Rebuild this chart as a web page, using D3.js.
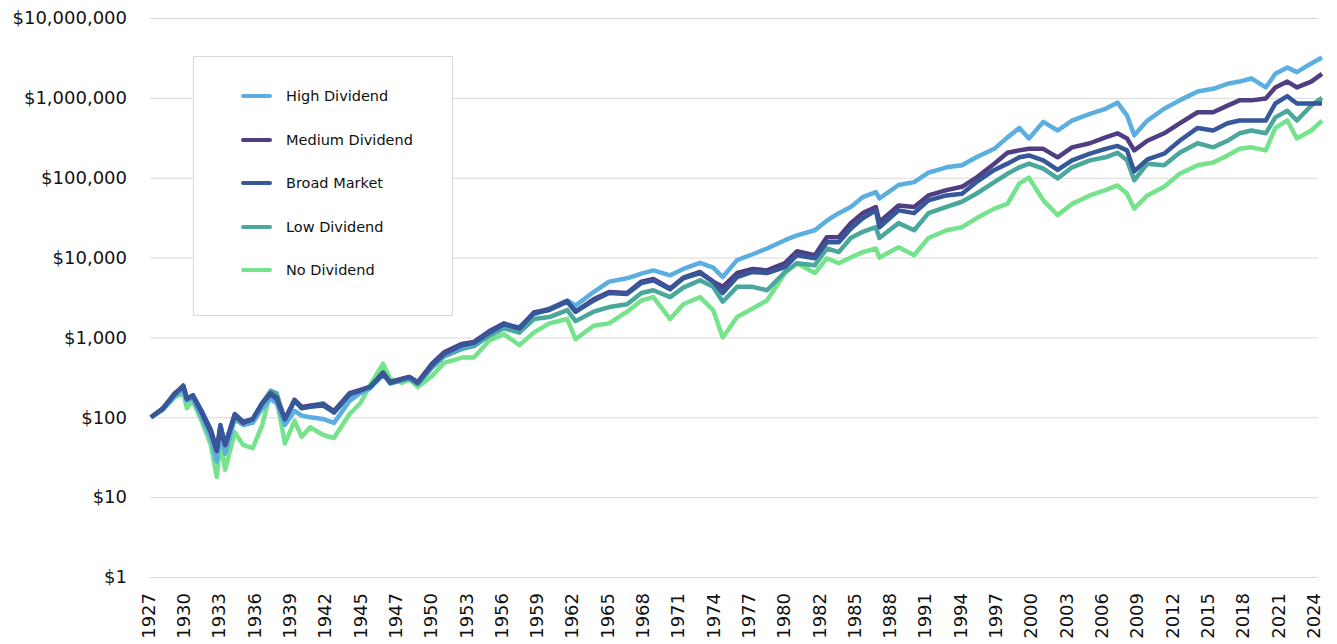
<!DOCTYPE html>
<html>
<head>
<meta charset="utf-8">
<script src="https://cdn.jsdelivr.net/npm/d3@7"></script>
<style>
  body { margin: 0; background: #fff; }
  svg text { font-family: "DejaVu Sans", Verdana, sans-serif; fill: #111; }
</style>
</head>
<body>
<div id="chart"></div>
<script>
// year labels on the category axis (as printed, evenly spaced)
var xLabels = ["1927","1930","1933","1936","1939","1942","1945","1947","1950","1953","1956","1959",
  "1962","1965","1968","1971","1974","1977","1980","1982","1985","1988","1991","1994","1997",
  "2000","2003","2006","2009","2012","2015","2018","2021","2024"];

var yTicks = [1, 10, 100, 1000, 10000, 100000, 1000000, 10000000];

// sample dates (fractional years)
var years = [1927.0, 1928.0, 1929.0, 1929.7, 1930.0, 1930.5, 1931.3, 1932.0, 1932.5, 1932.8,
  1933.2, 1934.0, 1934.7, 1935.5, 1936.3, 1937.0, 1937.5, 1938.2, 1939.0, 1939.6,
  1940.3, 1941.4, 1942.3, 1943.6, 1944.5, 1945.3, 1946.4, 1947.0, 1948.0, 1948.6,
  1949.3, 1950.5, 1951.5, 1953.0, 1954.0, 1955.3, 1956.5, 1957.8, 1959.0, 1960.3,
  1961.8, 1962.5, 1964.0, 1965.3, 1966.8, 1968.0, 1969.0, 1970.4, 1971.5, 1972.9,
  1974.0, 1974.8, 1976.0, 1977.3, 1978.5, 1980.0, 1981.0, 1982.5, 1983.5, 1984.5,
  1985.5, 1986.5, 1987.6, 1987.9, 1989.5, 1990.8, 1992.0, 1993.5, 1994.8, 1996.0,
  1997.5, 1998.6, 1999.6, 2000.4, 2001.6, 2002.8, 2004.0, 2005.5, 2006.8, 2007.8,
  2008.6, 2009.2, 2010.3, 2011.7, 2013.0, 2014.5, 2015.8, 2017.0, 2018.0, 2019.0,
  2020.2, 2021.0, 2022.0, 2022.8, 2024.0, 2024.9];

var highDiv = [100, 125, 185, 220, 160, 170, 95, 55, 28, 65,
  35, 95, 80, 85, 130, 170, 150, 80, 120, 105,
  100, 95, 85, 160, 200, 230, 340, 280, 300, 310,
  270, 440, 600, 760, 820, 1150, 1400, 1350, 1950, 2300,
  2900, 2500, 3700, 5000, 5500, 6300, 6900, 6000, 7200, 8600,
  7500, 5700, 9300, 11000, 13000, 16500, 19000, 22000, 29000, 36000,
  43000, 57000, 66000, 55000, 81000, 88000, 116000, 135000, 143000, 180000,
  230000, 320000, 420000, 310000, 500000, 390000, 520000, 630000, 730000, 870000,
  600000, 340000, 520000, 730000, 930000, 1200000, 1300000, 1500000, 1600000, 1750000,
  1350000, 2000000, 2400000, 2100000, 2700000, 3200000];

var mediumDiv = [100, 128, 200, 245, 170, 185, 110, 65, 38, 75,
  45, 105, 85, 95, 150, 200, 175, 95, 165, 135,
  140, 145, 120, 200, 220, 240, 360, 275, 305, 320,
  275, 470, 650, 830, 880, 1200, 1500, 1300, 2050, 2250,
  2850, 2100, 3000, 3700, 3600, 5000, 5400, 4100, 5600, 6600,
  5000, 4300, 6400, 7200, 6900, 8500, 12000, 10700, 18000, 18000,
  27000, 36000, 43000, 28000, 45000, 43000, 60000, 70000, 77000, 100000,
  150000, 205000, 220000, 230000, 230000, 180000, 240000, 270000, 320000, 360000,
  310000, 220000, 290000, 360000, 480000, 660000, 660000, 800000, 930000, 930000,
  980000, 1350000, 1600000, 1350000, 1600000, 2000000];

var broadMkt = [100, 130, 195, 250, 170, 190, 115, 70, 40, 80,
  45, 110, 88, 95, 150, 195, 170, 95, 160, 130,
  135, 140, 115, 195, 215, 240, 350, 270, 300, 320,
  270, 450, 620, 800, 850, 1150, 1450, 1300, 2000, 2200,
  2800, 2100, 2900, 3600, 3500, 4800, 5200, 4000, 5500, 6400,
  5000, 3600, 5700, 6600, 6400, 7600, 10700, 9800, 15500, 15500,
  23000, 31000, 39000, 24000, 39000, 36000, 52000, 60000, 63000, 88000,
  125000, 150000, 180000, 190000, 165000, 125000, 165000, 200000, 230000, 250000,
  220000, 120000, 170000, 200000, 290000, 420000, 390000, 480000, 520000, 520000,
  520000, 850000, 1050000, 850000, 850000, 850000];

var lowDiv = [100, 130, 200, 240, 170, 185, 110, 65, 35, 70,
  40, 105, 85, 92, 150, 215, 200, 90, 165, 130,
  140, 150, 115, 185, 210, 230, 370, 265, 290, 300,
  260, 420, 580, 720, 780, 1050, 1300, 1150, 1700, 1800,
  2200, 1600, 2100, 2400, 2600, 3600, 3900, 3200, 4200, 5200,
  4300, 2800, 4300, 4300, 3900, 6600, 8500, 8000, 13000, 11700,
  17600, 21000, 24000, 17600, 27000, 22000, 36000, 43000, 50000, 63000,
  88000, 112000, 135000, 150000, 130000, 98000, 135000, 165000, 180000, 205000,
  165000, 93000, 150000, 143000, 205000, 270000, 240000, 290000, 360000, 390000,
  360000, 570000, 690000, 520000, 800000, 1000000];

var noDiv = [100, 125, 180, 200, 130, 160, 85, 45, 18, 50,
  22, 65, 45, 41, 80, 210, 170, 47, 90, 57,
  75, 60, 55, 110, 150, 250, 470, 300, 270, 300,
  240, 330, 480, 560, 560, 920, 1100, 800, 1150, 1500,
  1700, 950, 1400, 1500, 2100, 2900, 3200, 1700, 2600, 3200,
  2200, 1000, 1800, 2300, 2900, 6400, 8500, 6400, 9800, 8500,
  10000, 11700, 13000, 10000, 13500, 10700, 17600, 22000, 24000, 31000,
  41000, 47000, 85000, 100000, 52000, 34000, 47000, 60000, 70000, 80000,
  63000, 41000, 60000, 77000, 112000, 143000, 155000, 190000, 230000, 240000,
  220000, 420000, 520000, 310000, 390000, 520000];

var seriesNames = ["High Dividend", "Medium Dividend", "Broad Market", "Low Dividend", "No Dividend"];
var seriesColors = ["#5aaee0", "#4f3f82", "#36589b", "#4aa79c", "#74e38b"];
var seriesValues = [highDiv, mediumDiv, broadMkt, lowDiv, noDiv];

var W = 1337, H = 644;
var plotLeft = 150, plotRight = 1318, plotTop = 18, plotBottom = 577;

var svg = d3.select("#chart").append("svg")
  .attr("width", W)
  .attr("height", H);

var x = d3.scaleLinear().domain([1927, 2024.9]).range([151, 1322]);
var xCat = d3.scalePoint().domain(xLabels).range([148, 1313]);
var y = d3.scaleLog().domain([1, 10000000]).range([plotBottom, plotTop]);

// y axis + gridlines
var yAxis = svg.append("g")
  .attr("transform", "translate(" + plotLeft + ",0)")
  .call(d3.axisLeft(y)
    .tickValues(yTicks)
    .tickSize(-(plotRight - plotLeft))
    .tickPadding(23)
    .tickFormat(function(d) { return "$" + d3.format(",")(d); }));
yAxis.select(".domain").remove();
yAxis.selectAll(".tick line").attr("stroke", "#d9d9d9").attr("stroke-width", 1);
yAxis.selectAll(".tick text").style("font-size", "18px");

// x axis labels, rotated
var xAxis = svg.append("g")
  .attr("transform", "translate(0," + plotBottom + ")")
  .call(d3.axisBottom(xCat).tickSize(0));
xAxis.select(".domain").remove();
xAxis.selectAll(".tick text")
  .style("font-size", "18px")
  .attr("transform", "rotate(-90)")
  .attr("text-anchor", "end")
  .attr("x", -16)
  .attr("y", 0)
  .attr("dy", "0.35em");

// lines, drawn bottom to top
var line = d3.line()
  .x(function(d) { return x(d[0]); })
  .y(function(d) { return y(d[1]); });

var drawOrder = [4, 3, 0, 1, 2];
drawOrder.forEach(function(i) {
  var pts = years.map(function(yr, k) { return [yr, seriesValues[i][k]]; });
  svg.append("path")
    .datum(pts)
    .attr("fill", "none")
    .attr("stroke", seriesColors[i])
    .attr("stroke-width", 4.5)
    .attr("stroke-linejoin", "round")
    .attr("d", line);
});

// legend
var legend = svg.append("g");
legend.append("rect")
  .attr("x", 193.5).attr("y", 56.5)
  .attr("width", 259).attr("height", 259)
  .attr("fill", "#fff")
  .attr("stroke", "#d9d9d9");

var legendY = [96, 140, 183, 227, 270];
seriesNames.forEach(function(name, i) {
  legend.append("line")
    .attr("x1", 243).attr("x2", 270)
    .attr("y1", legendY[i]).attr("y2", legendY[i])
    .attr("stroke", seriesColors[i])
    .attr("stroke-width", 4)
    .attr("stroke-linecap", "round");
  legend.append("text")
    .attr("x", 286)
    .attr("y", legendY[i])
    .attr("dy", "0.35em")
    .style("font-size", "14.5px")
    .text(name);
});
</script>
</body>
</html>
